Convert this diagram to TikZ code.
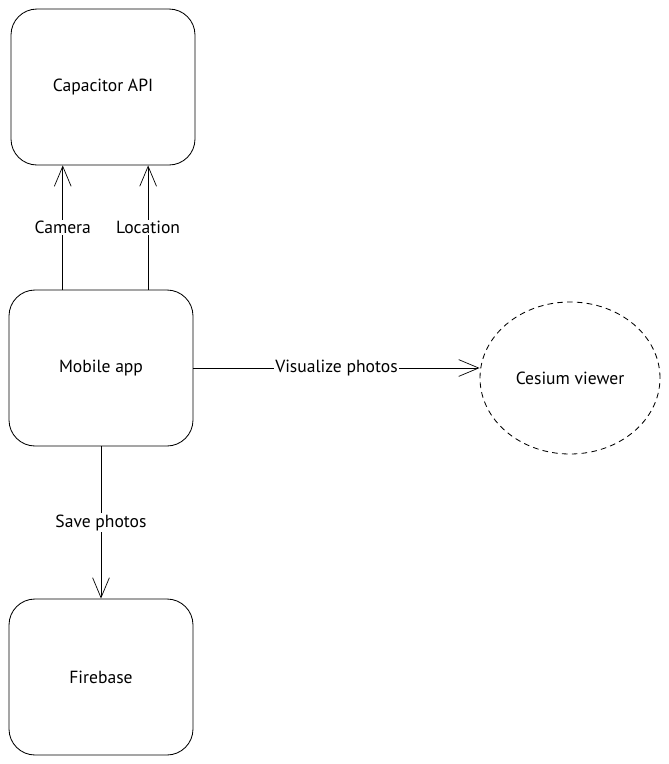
\documentclass[tikz,border=0pt]{standalone}
\usepackage{fontspec}
\setmainfont{PT Sans}
\usepackage{tikz}
\usetikzlibrary{arrows.meta}
\usetikzlibrary{shapes.geometric}
\tikzset{
  block/.style={draw, rounded corners=0.65cm, line width=0.6pt, minimum width=4.6cm, minimum height=3.9cm, font=\fontsize{12.5}{14}\selectfont},
  viewer/.style={draw, ellipse, dashed, dash pattern=on 4pt off 3pt, line width=0.6pt, minimum width=4.5cm, minimum height=3.8cm, font=\fontsize{12.5}{14}\selectfont},
  link/.style={line width=0.5pt, -{Straight Barb[length=0.5cm, width=0.42cm, line width=0.5pt]}},
  tag/.style={fill=white, inner sep=1pt, font=\fontsize{12.5}{14}\selectfont}
}

\begin{document}
\begin{tikzpicture}
  \useasboundingbox (0, 0) rectangle (16.7, -19.1);
  \node[block] (cap) at (2.575, -2.175) {Capacitor API};
  \node[block] (app) at (2.525, -9.2) {Mobile app};
  \node[block] (fire) at (2.525, -16.925) {Firebase};
  \node[viewer] (cesium) at (14.25, -9.45) {Cesium viewer};
  \draw[link] (app.116) -- (app.116 |- cap.south) node[tag, midway] {Camera};
  \draw[link] (app.59) -- (app.59 |- cap.south) node[tag, midway] {Location};
  \draw[link] (app.east) -- (app.east -| cesium.west) node[tag, midway] {Visualize photos};
  \draw[link] (app.south) -- (fire.north) node[tag, midway] {Save photos};
\end{tikzpicture}
\end{document}
